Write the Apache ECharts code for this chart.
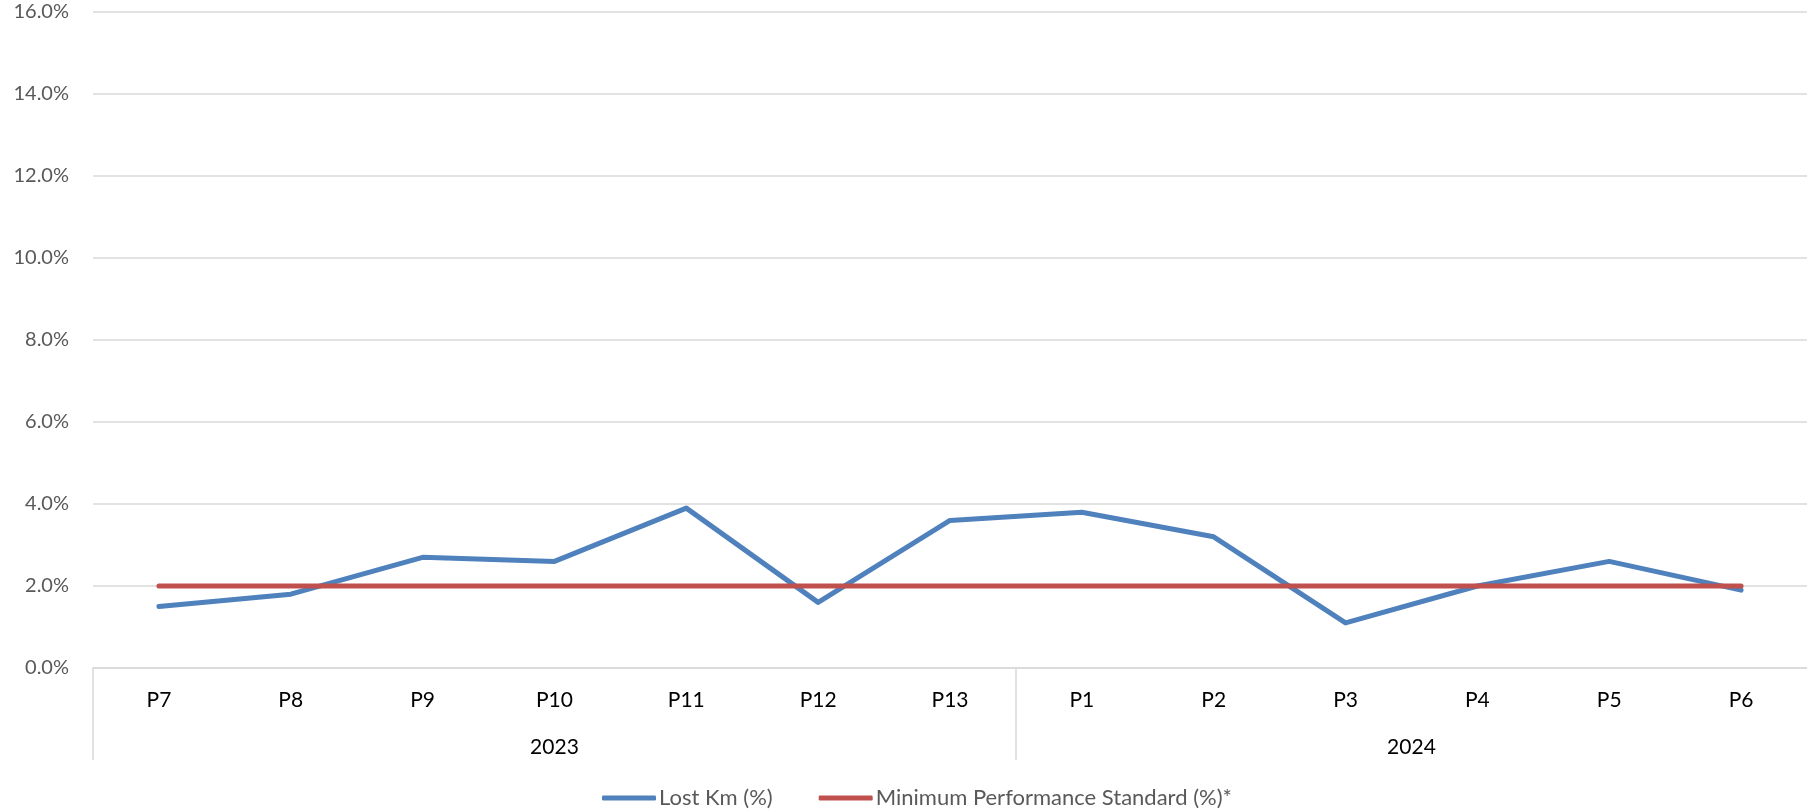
<!DOCTYPE html>
<html>
<head>
<meta charset="utf-8">
<script src="https://cdn.jsdelivr.net/npm/echarts@6/dist/echarts.min.js"></script>
<style>
  html, body { margin: 0; padding: 0; background: #fff; }
  #main { width: 1807px; height: 811px; }
</style>
</head>
<body>
<div id="main"></div>
<script>
// categories and values (percent)
var periods = ['P7', 'P8', 'P9', 'P10', 'P11', 'P12', 'P13', 'P1', 'P2', 'P3', 'P4', 'P5', 'P6'];
var lostKm = [1.5, 1.8, 2.7, 2.6, 3.9, 1.6, 3.6, 3.8, 3.2, 1.1, 2.0, 2.6, 1.9];
var minStandard = [2.0, 2.0, 2.0, 2.0, 2.0, 2.0, 2.0, 2.0, 2.0, 2.0, 2.0, 2.0, 2.0];
var years = ['2023', '2024'];
var yearSpans = [7, 6];

// year group boundaries (no line on the far right edge) and label centres
var bounds = [0];
var centres = [];
var acc = 0;
yearSpans.forEach(function (s, i) {
    centres.push(acc + s / 2);
    acc += s;
    if (i < yearSpans.length - 1) bounds.push(acc);
});

var font = 'Lato';
var gridColor = '#D9D9D9';

var myChart = echarts.init(document.getElementById('main'));

var option = {
    animation: false,
    grid: { left: 93, right: 0, top: 12, bottom: 143 },
    legend: {
        left: 597,
        top: 782,
        icon: 'roundRect',
        itemWidth: 54,
        itemHeight: 5,
        itemGap: 46,
        textStyle: { color: '#595959', fontFamily: font, fontSize: 22, padding: [0, 0, 0, -2] },
        data: ['Lost Km (%)', 'Minimum Performance Standard (%)*']
    },
    xAxis: [
        {
            type: 'category',
            data: periods,
            boundaryGap: true,
            axisLine: { lineStyle: { color: gridColor, width: 1.5 } },
            axisTick: { show: false },
            axisLabel: { color: '#000', fontFamily: font, fontSize: 21, margin: 22, interval: 0 }
        },
        {
            type: 'value',
            min: 0,
            max: periods.length,
            position: 'bottom',
            splitLine: { show: false },
            axisLine: { show: false },
            axisTick: {
                show: true,
                customValues: bounds,
                length: 92,
                lineStyle: { color: gridColor, width: 1.5 }
            },
            axisLabel: {
                customValues: centres,
                color: '#000',
                fontFamily: font,
                fontSize: 21,
                margin: 69,
                formatter: function (v) {
                    var i = centres.indexOf(v);
                    return i >= 0 ? years[i] : '';
                }
            }
        }
    ],
    yAxis: {
        type: 'value',
        min: 0,
        max: 16,
        interval: 2,
        axisLine: { show: false },
        axisTick: { show: false },
        splitLine: { lineStyle: { color: gridColor, width: 1.5 } },
        axisLabel: {
            color: '#595959',
            fontFamily: font,
            fontSize: 20,
            margin: 24,
            formatter: function (v) { return v.toFixed(1) + '%'; }
        }
    },
    series: [
        {
            name: 'Lost Km (%)',
            type: 'line',
            data: lostKm,
            showSymbol: false,
            symbol: 'none',
            itemStyle: { color: '#4F81BD' },
            lineStyle: { color: '#4F81BD', width: 5, cap: 'round', join: 'round' }
        },
        {
            name: 'Minimum Performance Standard (%)*',
            type: 'line',
            data: minStandard,
            showSymbol: false,
            symbol: 'none',
            itemStyle: { color: '#C0504D' },
            lineStyle: { color: '#C0504D', width: 5, cap: 'round', join: 'round' }
        }
    ]
};

myChart.setOption(option);
</script>
</body>
</html>
